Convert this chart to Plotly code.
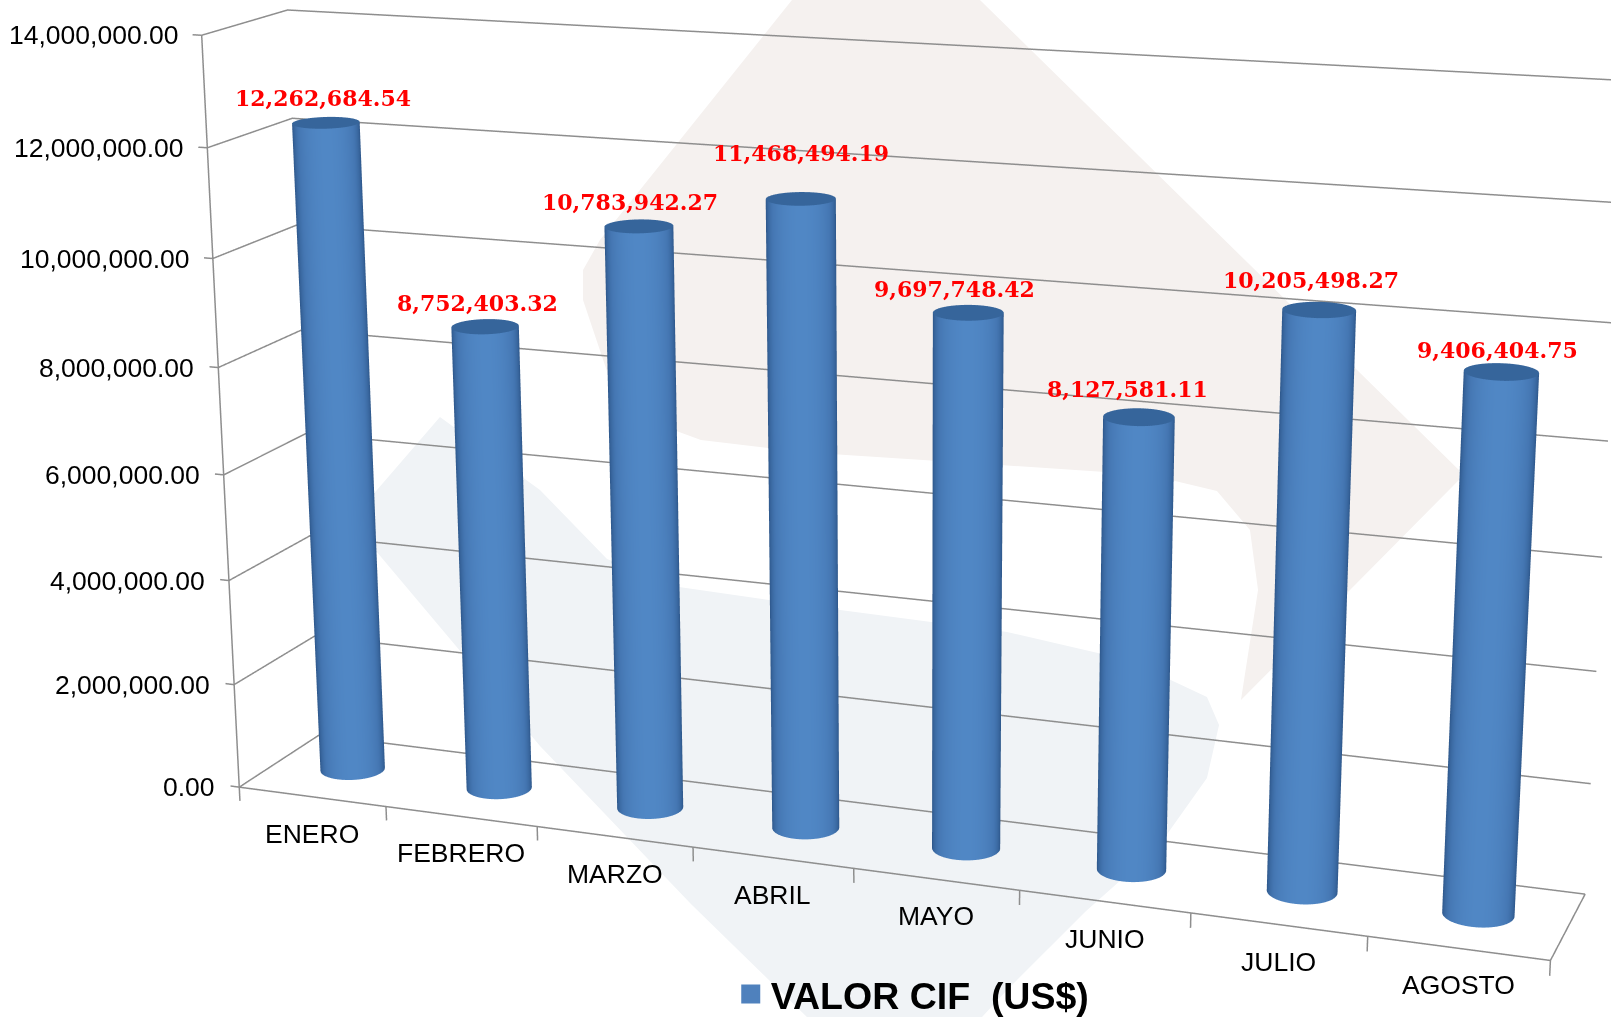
import numpy as np
import plotly.graph_objects as go

W, H = 1611, 1017
months = ["ENERO","FEBRERO","MARZO","ABRIL","MAYO","JUNIO","JULIO","AGOSTO"]
values = [12262684.54,8752403.32,10783942.27,11468494.19,9697748.42,8127581.11,10205498.27,9406404.75]
z_ticks = [0,2e6,4e6,6e6,8e6,10e6,12e6,14e6]
label_yshift = [25,24,24,46,24,28,30,22]
label_xshift = [-3,-8,-9,0,-14,-11,-8,-4]
series_name = "VALOR CIF  (US$)"
n = len(values)

# camera and box fitted to the picture
eye0 = (1.741,-4.76752,1.36609)
center0 = (-0.00274,-0.28662,0.00618)
up0 = (0.00379,0.01076,1.0)
ax0, ay0, az0 = 1.89988,0.2453,1.09408
FOV_DEG = np.degrees(0.26039)
col_y = 0.51182

tick_x = 0.06
tick_z = 0.27e6
pad = 0.005
zmax = z_ticks[-1]
x_range = [-tick_x, n+pad]
y_range = [-pad, 1+pad]
z_range = [-tick_z, zmax*(1+pad/8)]
dx = (n/2-sum(x_range)/2)/n*ax0
dy = (0.5-sum(y_range)/2)*ay0
dz = (zmax/2-sum(z_range)/2)/zmax*az0
eye = dict(x=eye0[0]+dx,y=eye0[1]+dy,z=eye0[2]+dz)
center = dict(x=center0[0]+dx,y=center0[1]+dy,z=center0[2]+dz)
up = dict(x=up0[0],y=up0[1],z=up0[2])
asp = dict(x=ax0*(x_range[1]-x_range[0])/n,y=ay0*(y_range[1]-y_range[0]),z=az0*(z_range[1]-z_range[0])/zmax)

grey = "#8e8e8e"
fig = go.Figure()
flat = dict(ambient=1,diffuse=0,specular=0,fresnel=0)
cs = [[0,"#284f80"],[0.3,"#36639a"],[0.6,"#4577b3"],[1,"#5087c5"]]
rm = 0.047
th = np.linspace(0,2*np.pi,97)
for i,v in enumerate(values):
    cx = i+.5; cy = col_y
    mx = (cx-n/2)/n*ax0
    tv = np.arctan2(eye0[1],eye0[0]-mx)
    X = np.array([cx+rm*np.cos(th)*n/ax0]*2); Y = np.array([cy+rm*np.sin(th)/ay0]*2)
    Z = np.array([np.zeros_like(th),np.full_like(th,v)])
    C = np.array([np.clip(np.cos(th-tv),0,1)]*2)
    fig.add_trace(go.Surface(x=X,y=Y,z=Z,surfacecolor=C,cmin=0,cmax=1,colorscale=cs,showscale=False,
        lighting=flat,hoverinfo="skip"))
    rr = np.array([0,1.0])
    X = cx+np.outer(rr,np.cos(th))*rm*n/ax0; Y = cy+np.outer(rr,np.sin(th))*rm/ay0; Z = np.full_like(X,v)
    fig.add_trace(go.Surface(x=X,y=Y,z=Z,surfacecolor=np.zeros_like(X),cmin=0,cmax=1,
        colorscale=[[0,"#36659b"],[1,"#36659b"]],showscale=False,lighting=flat,hoverinfo="skip"))

gx,gy,gz = [],[],[]
for t in z_ticks:
    gx += [-tick_x,0,0,n,None]; gy += [0,0,1,1,None]; gz += [t,t,t,t,None]
gx += [0,n,n,None,0,0,None]; gy += [0,0,1,None,0,0,None]; gz += [0,0,0,None,0,zmax,None]
for k in range(n+1):
    gx += [k,k,None]; gy += [0,0,None]; gz += [0,-tick_z,None]
fig.add_trace(go.Scatter3d(x=gx,y=gy,z=gz,mode="lines",line=dict(color=grey,width=3),showlegend=False,hoverinfo="skip"))
fig.add_trace(go.Scatter3d(x=[None],y=[None],z=[None],mode="markers",name=series_name,showlegend=True,
    marker=dict(symbol="square",size=16,color="#4f81bd",line=dict(color="#4f81bd",width=3))))

ann = []
for i,v in enumerate(values):
    ann.append(dict(x=i+.5,y=col_y,z=v,text=f"{v:,.2f}",showarrow=False,yshift=label_yshift[i],xshift=label_xshift[i],
        font=dict(family="DejaVu Serif",size=22,color="#ff0000",weight="bold")))
for zv in z_ticks:
    ann.append(dict(x=0,y=0,z=zv,text=f"{zv:,.2f}",showarrow=False,xanchor="right",xshift=-22,
        font=dict(family="Liberation Sans",size=26.5,color="#000")))
for i,m in enumerate(months):
    ann.append(dict(x=i+.5,y=0,z=0,text=m,showarrow=False,yshift=-37,xshift=0,
        font=dict(family="Liberation Sans",size=26.5,color="#000")))

beige = [(792,0),(600,240),(583,270),(583,300),(610,380),(660,425),(701,440),(800,452),(1000,465),(1150,475),(1217,491),(1250,530),(1258,590),(1241,700),(1459,480),(1459,470),(980,0)]
bluegrey = [(370,498),(440,417),(540,490),(607,559),(679,587),(825,608),(1007,632),(1128,660),(1207,697),(1219,725),(1207,778),(1158,847),(1085,912),(1007,990),(982,1017),(807,1017),(691,904),(540,746),(376,551)]
def path(P): return "M"+" L".join(f"{a/W:.4f},{1-b/H:.4f}" for a,b in P)+" Z"
shapes = [dict(type="path",xref="paper",yref="paper",path=path(P),fillcolor=c,line=dict(width=0),layer="below")
          for P,c in ((beige,"#f5f1ef"),(bluegrey,"#f0f3f6"))]

ax_common = dict(showbackground=False,showspikes=False,zeroline=False,title="",showticklabels=False,
    showline=False,ticks="",showgrid=False)
fig.update_layout(width=W,height=H,margin=dict(l=0,r=0,t=0,b=0,autoexpand=False),paper_bgcolor="white",shapes=shapes,
    legend=dict(x=0.4536,y=-0.008,xanchor="left",yanchor="bottom",font=dict(family="Liberation Sans",size=37.5,color="#000",weight="bold"),bgcolor="rgba(0,0,0,0)"),
    scene=dict(domain=dict(x=[0,1],y=[0,1]),aspectmode="manual",aspectratio=asp,bgcolor="rgba(0,0,0,0)",dragmode="orbit",
        camera=dict(eye=eye,center=center,up=up,projection=dict(type="perspective")),
        xaxis=dict(ax_common,range=x_range),
        yaxis=dict(ax_common,range=y_range),
        zaxis=dict(ax_common,range=z_range),
        annotations=ann))
post = """
document.body.style.margin='0';
var gd=document.getElementById('{plot_id}');
var sc=gd._fullLayout.scene._scene;
sc.glplot.fovy=%f*Math.PI/180;
sc.glplot.redraw();
""" % FOV_DEG
fig.write_html("out.html",post_script=post,config=dict(displayModeBar=False))
